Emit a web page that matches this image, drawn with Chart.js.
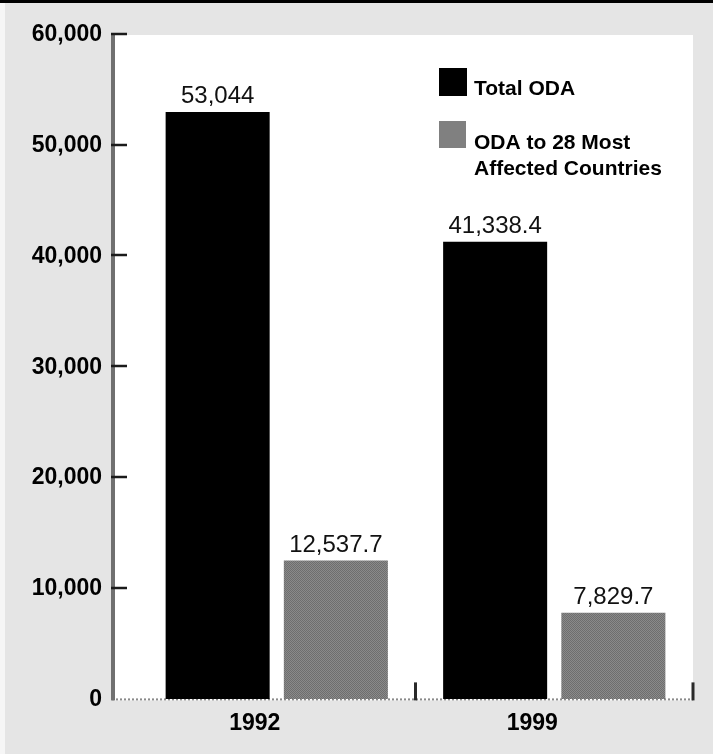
<!DOCTYPE html>
<html>
<head>
<meta charset="utf-8">
<script src="https://cdn.jsdelivr.net/npm/chart.js@4/dist/chart.umd.min.js"></script>
<style>
  html, body { margin: 0; padding: 0; background: #e5e5e5; }
  #wrap { width: 713px; height: 754px; }
</style>
</head>
<body>
<div id="wrap"><canvas id="oda" width="713" height="754"></canvas></div>
<script>
// Official development assistance, US$ millions
const CATEGORIES = ['1992', '1999'];
const TOTAL_ODA = [53044, 41338.4];
const AFFECTED_ODA = [12537.7, 7829.7];
const SERIES_NAMES = ['Total ODA', 'ODA to 28 Most\nAffected Countries'];
const Y_MIN = 0;
const Y_MAX = 60000;
const Y_STEP = 10000;

const AXIS_INSET = 26;          // white margin between the value axis and the first group
const LABEL_FONT = '"Liberation Sans", Arial, sans-serif';

const fmt = v => v.toLocaleString('en-US');

// fine checker texture for the grey bars
function checker() {
  const c = document.createElement('canvas');
  c.width = 2; c.height = 2;
  const g = c.getContext('2d');
  g.fillStyle = '#8a8a8a'; g.fillRect(0, 0, 2, 2);
  g.fillStyle = '#6e6e6e'; g.fillRect(0, 0, 1, 1); g.fillRect(1, 1, 1, 1);
  return g.createPattern(c, 'repeat');
}

const framePlugin = {
  id: 'frame',
  beforeDraw(chart) {
    const { ctx, chartArea: a, width, height } = chart;
    ctx.save();
    ctx.fillStyle = '#e5e5e5';
    ctx.fillRect(0, 0, width, height);
    ctx.fillStyle = '#f6f6f6';
    ctx.fillRect(0, 0, 5, height);
    ctx.fillStyle = '#000';
    ctx.fillRect(0, 0, width, 3);
    ctx.fillStyle = '#fff';
    const left = a.left - AXIS_INSET;
    ctx.fillRect(left, a.top, a.right - left, a.bottom - a.top + 1);
    ctx.restore();
  },
  beforeDatasetsDraw(chart) {
    const { ctx, chartArea: a } = chart;
    ctx.save();
    ctx.strokeStyle = '#8a8a8a';
    ctx.lineWidth = 2;
    ctx.setLineDash([2, 2]);
    ctx.beginPath();
    ctx.moveTo(a.left - AXIS_INSET, a.bottom);
    ctx.lineTo(a.right, a.bottom);
    ctx.stroke();
    ctx.restore();
  },
  afterDatasetsDraw(chart) {
    const { ctx, chartArea: a, scales } = chart;
    const axisX = a.left - AXIS_INSET;
    ctx.save();

    // value axis line
    ctx.fillStyle = '#707070';
    ctx.fillRect(axisX - 1, a.top - 2, 4, a.bottom - a.top + 3);

    // value axis ticks
    ctx.strokeStyle = '#1a1a1a';
    ctx.lineWidth = 2.5;
    scales.y.ticks.forEach(t => {
      const y = Math.round(scales.y.getPixelForValue(t.value));
      if (t.value === Y_MIN) return;
      ctx.beginPath();
      ctx.moveTo(axisX - 1, y - 1);
      ctx.lineTo(axisX + 15, y - 1);
      ctx.stroke();
    });

    // group separators on the base line
    ctx.fillStyle = '#2a2a2a';
    const xs = scales.x;
    for (let i = 0; i < CATEGORIES.length; i++) {
      const edge = i < CATEGORIES.length - 1
        ? (xs.getPixelForValue(i) + xs.getPixelForValue(i + 1)) / 2
        : a.right;
      ctx.fillRect(edge - 1.5, a.bottom - 17, 3, 18);
    }

    // value labels above the bars
    ctx.fillStyle = '#111';
    ctx.font = '24px ' + LABEL_FONT;
    ctx.textAlign = 'center';
    ctx.textBaseline = 'alphabetic';
    chart.data.datasets.forEach((ds, di) => {
      chart.getDatasetMeta(di).data.forEach((bar, i) => {
        ctx.fillText(fmt(ds.data[i]), bar.x, bar.y - 9);
      });
    });

    // legend
    const lx = a.right - 254;
    const entries = [
      { color: '#000', top: a.top + 33, size: 28, textY: a.top + 60 },
      { color: '#808080', top: a.top + 86, size: 27, textY: a.top + 114 }
    ];
    ctx.font = 'bold 21px ' + LABEL_FONT;
    ctx.textAlign = 'left';
    entries.forEach((e, i) => {
      ctx.fillStyle = e.color;
      ctx.fillRect(lx, e.top, e.size, e.size);
      ctx.fillStyle = '#000';
      SERIES_NAMES[i].split('\n').forEach((line, k) => {
        ctx.fillText(line, lx + 35, e.textY + k * 26);
      });
    });
    ctx.restore();
  }
};

new Chart(document.getElementById('oda'), {
  type: 'bar',
  data: {
    labels: CATEGORIES,
    datasets: [
      { label: SERIES_NAMES[0], data: TOTAL_ODA, backgroundColor: '#000' },
      { label: SERIES_NAMES[1], data: AFFECTED_ODA, backgroundColor: checker() }
    ]
  },
  options: {
    responsive: false,
    animation: false,
    devicePixelRatio: 1,
    categoryPercentage: 0.852,
    barPercentage: 0.88,
    layout: { padding: { top: 35, right: 20, bottom: 15, left: 0 } },
    plugins: { legend: { display: false }, tooltip: { enabled: false } },
    scales: {
      x: {
        grid: { display: false },
        border: { display: false },
        ticks: {
          color: '#000',
          padding: 2,
          labelOffset: -22,
          font: { family: LABEL_FONT, size: 23, weight: 'bold', lineHeight: 1.2 }
        }
      },
      y: {
        min: Y_MIN,
        max: Y_MAX,
        // invisible tick marks only reserve the gap between labels and plot
        grid: { display: true, drawOnChartArea: false, drawTicks: true, tickLength: 36, color: 'rgba(0,0,0,0)' },
        border: { display: false },
        afterFit(scale) { scale.width = 138; },
        ticks: {
          stepSize: Y_STEP,
          color: '#000',
          padding: 0,
          callback: v => fmt(v),
          font: { family: LABEL_FONT, size: 23, weight: 'bold', lineHeight: 1.2 }
        }
      }
    }
  },
  plugins: [framePlugin]
});
</script>
</body>
</html>
